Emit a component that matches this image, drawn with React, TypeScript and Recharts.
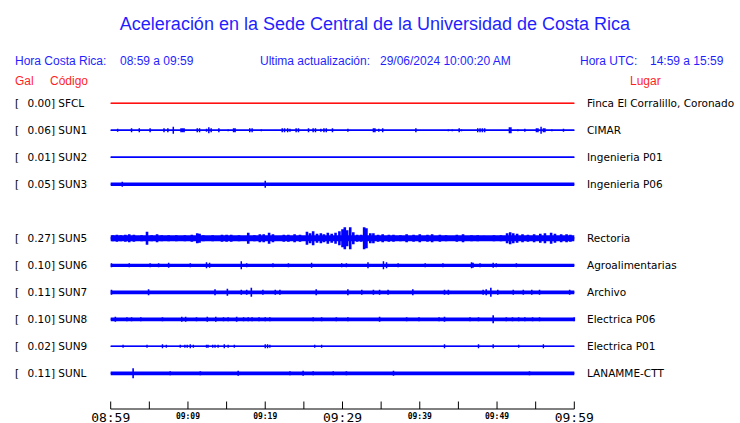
import React from 'react';
import { LineChart, Line, XAxis, YAxis, ReferenceLine } from 'recharts';

// estaciones de arriba hacia abajo (SUN4 sin datos en esta hora)
const codes = ['SFCL', 'SUN1', 'SUN2', 'SUN3', 'SUN4', 'SUN5', 'SUN6', 'SUN7', 'SUN8', 'SUN9', 'SUNL'];
const gal = [0.0, 0.06, 0.01, 0.05, null, 0.27, 0.1, 0.11, 0.1, 0.02, 0.11];
const places = [
  'Finca El Corralillo, Coronado', 'CIMAR', 'Ingenieria P01', 'Ingenieria P06', '',
  'Rectoria', 'Agroalimentarias', 'Archivo', 'Electrica P06', 'Electrica P01', 'LANAMME-CTT',
];

// picos de cada traza: [minuto desde 08:59, semiamplitud]
const sfclPeaks: number[][] = [];
const sun1Peaks = [
  [0.9, 1.5], [2.7, 2], [3.7, 2], [5.1, 2], [6.9, 2], [7.4, 2], [8.1, 3.5], [9.1, 2], [9.3, 2], [9.5, 2],
  [11.2, 2], [11.5, 2], [12.4, 1.5], [12.7, 3], [13.0, 2], [14.0, 2], [15.2, 1], [15.9, 2], [16.1, 2],
  [18.0, 2], [18.3, 2], [19.5, 1], [22.2, 2], [22.5, 2], [22.9, 2], [23.2, 1.5], [24.0, 2], [24.3, 2],
  [25.6, 2], [26.2, 2], [26.5, 2], [27.2, 1.5], [27.6, 2], [27.9, 2], [28.7, 2], [30.7, 1.5], [34.0, 2],
  [34.2, 2], [34.7, 1.5], [35.2, 2], [39.5, 2], [43.7, 1], [44.2, 1], [45.1, 2], [45.4, 1], [47.5, 2],
  [47.8, 2], [48.1, 2], [48.4, 2], [51.6, 3], [51.8, 3], [52.7, 1], [53.6, 1.5], [55.1, 2], [55.3, 2],
  [55.7, 3.5], [56.0, 2], [56.2, 2], [57.1, 1], [58.6, 1.5],
];
const sun2Peaks: number[][] = [];
const sun3Peaks = [[1.5, 2.5], [20.0, 3.5]];
const sun4Peaks: number[][] = [];
const sun5Peaks = [
  [0.3, 3], [0.8, 3.5], [1.3, 3], [1.9, 3.5], [2.4, 4], [3.0, 3.5], [4.0, 3], [4.7, 6.5], [5.3, 3], [6.0, 4],
  [6.6, 3], [7.5, 3], [8.5, 3], [9.6, 3], [10.5, 3.5], [11.2, 5], [11.5, 4.5], [12.0, 3], [13.2, 3],
  [14.4, 3.5], [15.0, 3.5], [15.6, 3.5], [16.6, 3], [17.8, 5.5], [18.6, 3], [19.3, 4], [19.8, 4],
  [20.5, 5.5], [21.0, 4], [22.4, 3.5], [23.0, 3.5], [23.8, 4], [24.5, 3.5], [25.4, 6.5], [25.8, 5],
  [26.2, 7], [26.7, 4.5], [27.2, 5], [27.6, 4], [28.1, 5.5], [28.6, 4.5], [29.1, 5.5], [29.6, 7],
  [30.0, 9], [30.3, 11], [30.6, 8], [31.0, 11], [31.4, 6], [31.9, 3.5], [32.4, 3.5], [32.8, 11],
  [33.1, 10], [33.6, 5], [34.0, 5], [34.6, 3.5], [35.2, 4], [36.0, 3.5], [36.6, 3.5], [37.5, 3],
  [38.3, 4], [39.2, 3.5], [40.0, 4], [41.0, 3.5], [41.6, 4], [42.6, 3.5], [43.4, 3], [44.8, 3.5],
  [45.6, 4], [46.7, 3], [47.5, 3], [48.3, 2.5], [49.6, 3], [50.5, 3], [51.3, 5], [51.7, 6], [52.1, 5],
  [52.6, 4.5], [53.3, 4], [54.0, 3.5], [54.8, 4], [55.6, 4.5], [56.2, 5], [57.0, 5.5], [57.5, 4.5],
  [58.3, 4], [59.0, 4], [59.5, 3.5],
];
const sun6Peaks = [
  [0.1, 2], [2.4, 2], [5.1, 2], [6.2, 2], [7.5, 2.5], [10.3, 2], [12.4, 3], [12.8, 2.5], [16.9, 4],
  [17.6, 2], [21.0, 2], [23.0, 2], [26.0, 2.5], [29.9, 2], [30.5, 2], [33.3, 3], [35.3, 4], [35.7, 3],
  [37.2, 2], [40.7, 2], [43.0, 2], [46.7, 3], [46.9, 2.5], [47.8, 2], [49.5, 2.5], [49.9, 2], [52.5, 2],
];
const sun7Peaks = [
  [0.1, 2.5], [4.9, 3], [13.5, 3], [15.1, 3.5], [16.9, 2.5], [17.6, 2.5], [18.2, 4.5], [19.7, 2.5],
  [21.3, 2.5], [21.9, 2.5], [26.6, 3], [30.7, 3], [32.5, 2.5], [34.0, 2.5], [34.8, 2.5], [35.9, 2.5],
  [39.1, 3], [43.2, 2.5], [43.7, 2.5], [48.2, 2.5], [48.6, 3], [49.2, 4.5], [50.1, 2.5], [52.1, 2.5],
  [53.4, 2.5], [54.5, 2.5], [55.5, 2.5], [59.4, 2.5],
];
const sun8Peaks = [
  [0.6, 2.5], [2.1, 2], [2.7, 2], [3.9, 2], [6.7, 2], [9.2, 2.5], [9.7, 2.5], [11.1, 2], [12.5, 2.5],
  [13.6, 2.5], [14.6, 2], [15.2, 2], [16.3, 2.5], [17.2, 2], [17.8, 2], [18.3, 2], [19.2, 2], [20.0, 2],
  [20.6, 2], [26.2, 2], [27.3, 2], [29.2, 2], [30.7, 2], [34.8, 2.5], [38.3, 2], [39.9, 2], [42.5, 2],
  [43.2, 2.5], [46.5, 2], [47.6, 2], [49.5, 4], [51.2, 2], [52.0, 2], [52.8, 2], [53.6, 2], [54.6, 2],
  [55.5, 2], [60.0, 2],
];
const sun9Peaks = [
  [1.6, 1.5], [4.7, 1.5], [6.7, 2], [7.2, 1.5], [9.0, 1.5], [9.6, 1.5], [9.9, 1.5], [10.3, 2], [10.7, 1.5],
  [12.4, 1.5], [12.6, 1.5], [13.2, 1.5], [13.5, 1.5], [13.9, 1.5], [14.7, 2], [15.2, 1.5], [16.0, 1.5],
  [20.0, 2], [20.3, 2], [20.6, 1.5], [26.4, 1.5], [27.3, 1.5], [43.2, 2], [47.6, 2], [49.5, 2],
  [52.8, 1.5], [56.0, 2],
];
const sunlPeaks = [
  [2.9, 5], [7.7, 2], [11.6, 2], [16.5, 2.5], [23.2, 2], [24.9, 2.5], [26.2, 2], [28.8, 2], [30.5, 2],
  [36.6, 2.5], [54.2, 2],
];
const peaks = [
  sfclPeaks, sun1Peaks, sun2Peaks, sun3Peaks, sun4Peaks, sun5Peaks,
  sun6Peaks, sun7Peaks, sun8Peaks, sun9Peaks, sunlPeaks,
];

const tickMinutes = [0, 5, 10, 15, 20, 25, 30, 35, 40, 45, 50, 55, 60];
const tickLabels = ['08:59', '', '09:09', '', '09:19', '', '09:29', '', '09:39', '', '09:49', '', '09:59'];
const majorLabels = ['08:59', '09:29', '09:59'];

// estilo de cada traza
const traceColor = ['#ff1010', '#0000ff', '#0000ff', '#0000ff', '#0000ff', '#0000ff', '#0000ff', '#0000ff', '#0000ff', '#0000ff', '#0000ff'];
const bandWidth = [1, 1.4, 1.5, 3.5, 0, 6, 3.2, 3.8, 3.8, 1.2, 3.8];
const peakWidth = [1.5, 1.5, 1.5, 1.5, 1.5, 2.6, 1.5, 1.6, 1.6, 1.4, 1.6];

const BLUE = '#1f1fff';
const RED = '#ff1f1f';
const SANS = '"Liberation Sans", Arial, sans-serif';
const DEJAVU = '"DejaVu Sans", sans-serif';
const MONO = '"DejaVu Sans Mono", monospace';

// 1 unidad = 1px, fila superior arriba y 27px entre filas
const rowLevel = (i: number) => 305.7 - 27 * i;
const rowTicks = codes.map((_, i) => rowLevel(i)).filter((_, i) => gal[i] !== null);
const rowIndex = (v: number) => Math.round((305.7 - v) / 27);

function CodeTick(props: any) {
  const i = rowIndex(props.payload.value);
  return (
    <g fontFamily={DEJAVU} fontSize={10.5} fill="#000">
      <text x={15} y={props.y + 4}>[</text>
      <text x={27.5} y={props.y + 4}>{`${(gal[i] as number).toFixed(2)}] ${codes[i]}`}</text>
    </g>
  );
}

function PlaceTick(props: any) {
  const i = rowIndex(props.payload.value);
  return (
    <text x={587} y={props.y + 4} fontFamily={DEJAVU} fontSize={10.5} fill="#000">
      {places[i]}
    </text>
  );
}

function TimeTick(props: any) {
  const label = tickLabels[tickMinutes.indexOf(props.payload.value)];
  if (!label) return null;
  const major = majorLabels.includes(label);
  return (
    <text
      x={props.x}
      y={props.y + (major ? 4.5 : 1.5)}
      textAnchor="middle"
      fontFamily={MONO}
      fontSize={major ? 13 : 8}
      fontWeight={major ? 'normal' : 'bold'}
      fill="#000"
    >
      {label}
    </text>
  );
}

export default function App() {
  return (
    <div style={{ position: 'absolute', left: 0, top: 0, width: 740, height: 423, background: '#fff' }}>
      <LineChart width={740} height={423} margin={{ top: 90, right: 0, bottom: 0, left: 0 }}>
        <XAxis
          dataKey="t"
          type="number"
          domain={[0, 60]}
          ticks={tickMinutes}
          interval={0}
          height={14}
          axisLine={{ stroke: '#000' }}
          tickLine={false}
          tick={<TimeTick />}
        />
        <YAxis
          yAxisId="left"
          type="number"
          domain={[0, 319]}
          ticks={rowTicks}
          interval={0}
          width={110.7}
          axisLine={false}
          tickLine={false}
          tick={<CodeTick />}
        />
        <YAxis
          yAxisId="right"
          orientation="right"
          type="number"
          domain={[0, 319]}
          ticks={rowTicks}
          interval={0}
          width={165.7}
          axisLine={false}
          tickLine={false}
          tick={<PlaceTick />}
        />
        {tickMinutes.map((m) => (
          <ReferenceLine
            key={`tick-${m}`}
            yAxisId="left"
            segment={[{ x: m, y: 0 }, { x: m, y: 7.5 }]}
            stroke="#000"
          />
        ))}
        {codes.map((code, i) => {
          if (gal[i] === null) return null;
          const level = rowLevel(i);
          const band = [{ t: 0, v: level }, { t: 60, v: level }];
          const pts = [{ t: 0, v: level }];
          peaks[i].forEach(([t, a]) => {
            pts.push({ t, v: level }, { t, v: level + a }, { t, v: level - a }, { t, v: level });
          });
          pts.push({ t: 60, v: level });
          return (
            <React.Fragment key={code}>
              <Line
                yAxisId="right"
                data={band}
                dataKey="v"
                stroke={traceColor[i]}
                strokeWidth={bandWidth[i]}
                dot={false}
                activeDot={false}
                isAnimationActive={false}
              />
              <Line
                yAxisId="left"
                data={pts}
                dataKey="v"
                stroke={traceColor[i]}
                strokeWidth={peakWidth[i]}
                strokeLinecap="butt"
                dot={false}
                activeDot={false}
                isAnimationActive={false}
              />
            </React.Fragment>
          );
        })}
      </LineChart>
      <svg width={740} height={423} style={{ position: 'absolute', left: 0, top: 0, pointerEvents: 'none' }}>
        <text x={375} y={30} textAnchor="middle" fontFamily={SANS} fontSize={18} fill={BLUE}>
          Aceleración en la Sede Central de la Universidad de Costa Rica
        </text>
        <g fontFamily={SANS} fontSize={12} fill={BLUE}>
          <text x={15} y={65}>Hora Costa Rica:</text>
          <text x={120} y={65}>08:59 a 09:59</text>
          <text x={260} y={65}>Ultima actualización:</text>
          <text x={380} y={65}>29/06/2024 10:00:20 AM</text>
          <text x={580} y={65}>Hora UTC:</text>
          <text x={650} y={65}>14:59 a 15:59</text>
        </g>
        <g fontFamily={SANS} fontSize={12} fill={RED}>
          <text x={15} y={85}>Gal</text>
          <text x={50} y={85}>Código</text>
          <text x={630} y={85}>Lugar</text>
        </g>
      </svg>
    </div>
  );
}
